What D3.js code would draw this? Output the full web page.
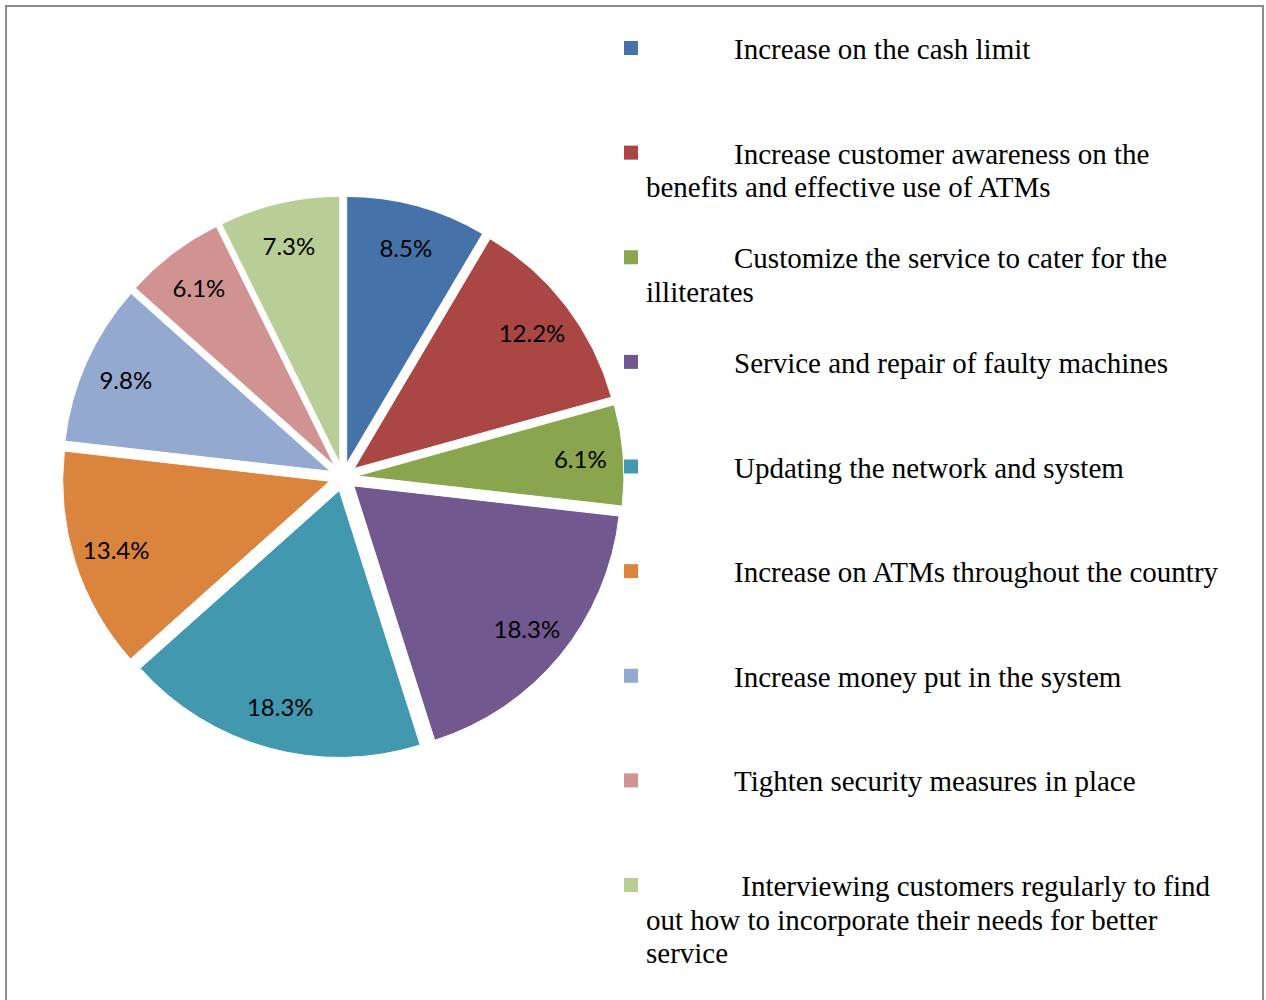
<!DOCTYPE html>
<html>
<head>
<meta charset="utf-8">
<script src="https://cdn.jsdelivr.net/npm/d3@7"></script>
<style>
  html, body { margin: 0; padding: 0; background: #fff; }
  svg { display: block; }
</style>
</head>
<body>
<svg id="chart" width="1266" height="1000"></svg>
<script>
// Suggested improvements for ATM services (share of respondents, %)
const categories = [
  "Increase on the cash limit",
  "Increase customer awareness on the benefits and effective use of ATMs",
  "Customize the service to cater for the illiterates",
  "Service and repair of faulty machines",
  "Updating the network and system",
  "Increase on ATMs throughout the country",
  "Increase money put in the system",
  "Tighten security measures in place",
  " Interviewing customers regularly to find out how to incorporate their needs for better service"
];
const values = [8.5, 12.2, 6.1, 18.3, 18.3, 13.4, 9.8, 6.1, 7.3];
const colors = ["#4572A8", "#AA4643", "#89A54E", "#71588F", "#4198AF",
                "#DB843D", "#93A9CF", "#D19392", "#B9CD96"];

const svg = d3.select("#chart");

// outer frame
svg.append("rect")
  .attr("x", 6).attr("y", 6)
  .attr("width", 1257).attr("height", 1010)
  .attr("fill", "none")
  .attr("stroke", "#8c8c8c")
  .attr("stroke-width", 2);

// ---- exploded pie ----
const cx = 343, cy = 477, R = 267, explode = 14, labelR = 238;

const pie = d3.pie().sort(null).value(d => d.value);
const arc = d3.arc().innerRadius(0).outerRadius(R);
const data = pie(values.map((v, i) => ({ value: v, name: categories[i], color: colors[i] })));

const mid = d => (d.startAngle + d.endAngle) / 2;

const g = svg.append("g").attr("transform", `translate(${cx},${cy})`);

g.selectAll("path.slice")
  .data(data)
  .join("path")
  .attr("class", "slice")
  .attr("d", arc)
  .attr("fill", d => d.data.color)
  .attr("stroke", "#fff")
  .attr("stroke-width", 1)
  .attr("transform", d => {
    const a = mid(d);
    return `translate(${explode * Math.sin(a)},${-explode * Math.cos(a)})`;
  });

g.selectAll("text.pct")
  .data(data)
  .join("text")
  .attr("class", "pct")
  .attr("x", d => labelR * Math.sin(mid(d)))
  .attr("y", d => -labelR * Math.cos(mid(d)))
  .attr("text-anchor", "middle")
  .attr("dominant-baseline", "central")
  .attr("font-family", "Lato, 'Noto Sans', sans-serif")
  .attr("font-size", 24)
  .attr("fill", "#000")
  .text(d => d.data.value.toFixed(1) + "%");

// ---- legend ----
const legX = 624, markSize = 14, firstTextX = 734, wrapTextX = 646;
const wrapRight = 1240, lineH = 33.5, fontSize = 29;
const legendY = d3.scalePoint().domain(d3.range(categories.length)).range([41, 878]);

const leg = svg.append("g")
  .attr("font-family", "'Liberation Serif', 'Times New Roman', serif")
  .attr("font-size", fontSize)
  .attr("fill", "#000");

categories.forEach((name, i) => {
  const y0 = legendY(i);
  leg.append("rect")
    .attr("x", legX).attr("y", y0)
    .attr("width", markSize).attr("height", markSize)
    .attr("fill", colors[i]);

  const text = leg.append("text").style("white-space", "pre");
  const words = name.replace(/^ /, "").split(" ");
  const lead = name.startsWith(" ") ? " " : "";
  let lineNo = 0;
  let startX = firstTextX;
  let line = lead;
  let tspan = text.append("tspan").attr("x", startX).attr("y", y0 + 18);
  words.forEach(w => {
    const trial = line + (line.trim().length ? " " : "") + w;
    tspan.text(trial);
    if (startX + tspan.node().getComputedTextLength() > wrapRight && line.trim().length) {
      tspan.text(line);
      lineNo += 1;
      startX = wrapTextX;
      line = w;
      tspan = text.append("tspan").attr("x", startX).attr("y", y0 + 18 + lineNo * lineH).text(w);
    } else {
      line = trial;
    }
  });
});
</script>
</body>
</html>
